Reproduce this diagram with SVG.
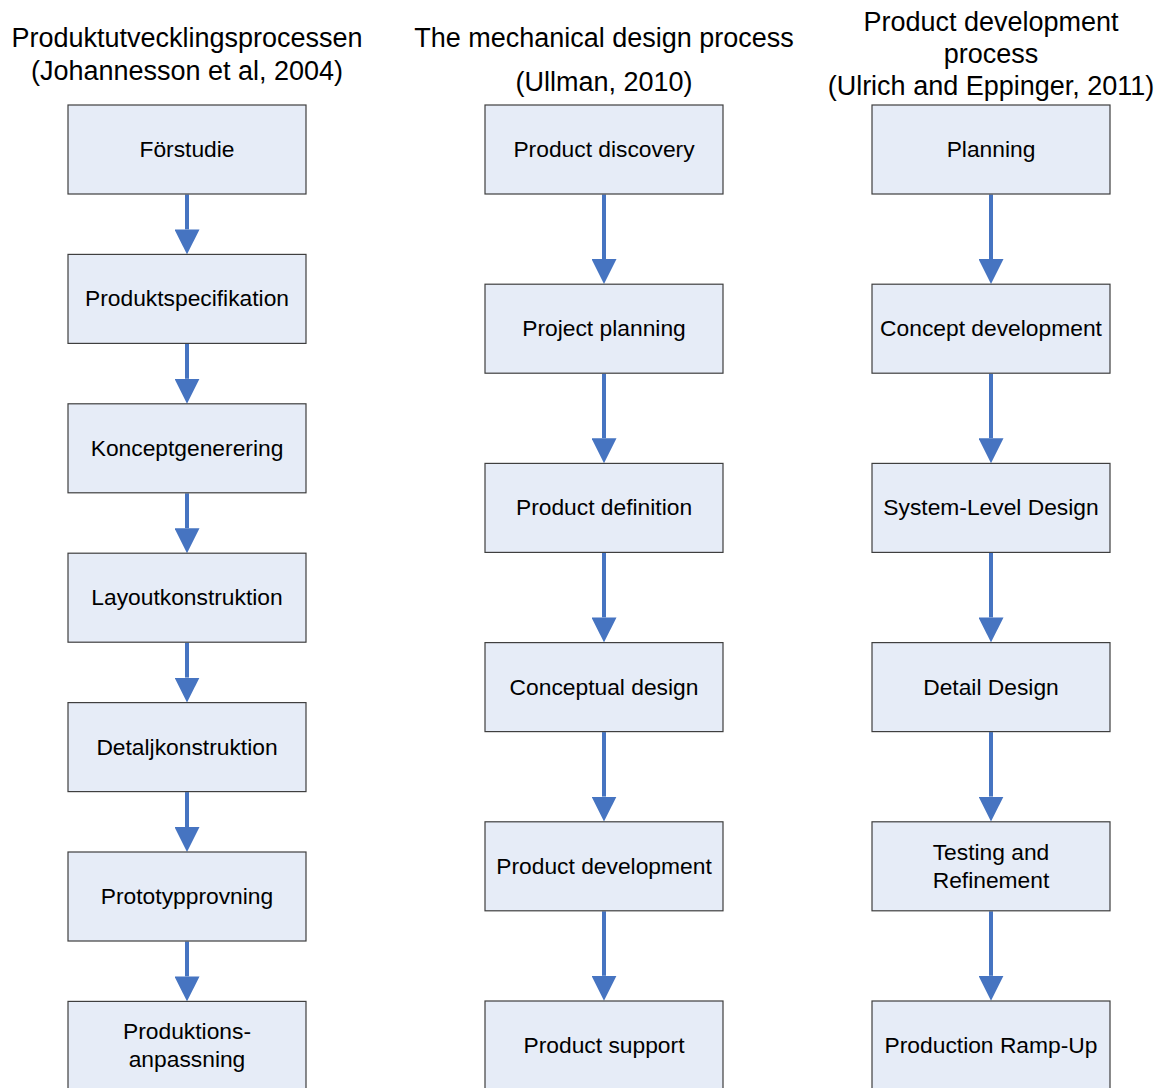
<svg xmlns="http://www.w3.org/2000/svg" width="1164" height="1088" viewBox="0 0 1164 1088">
  <style>
    .title { font-family: "Liberation Sans", Arial, sans-serif; font-size: 27px; fill: #000; text-anchor: middle; }
    .box rect { fill: #E6ECF7; stroke: #3F3F3F; stroke-width: 1.2; }
    .box text { font-family: "Liberation Sans", Arial, sans-serif; font-size: 22.8px; fill: #000; text-anchor: middle; }
    .flow { stroke: #4674C1; stroke-width: 4; fill: none; marker-end: url(#head); }
  </style>
  <defs>
    <marker id="head" markerUnits="userSpaceOnUse" viewBox="0 -12.5 25 25" refX="0" refY="0" markerWidth="25" markerHeight="25" orient="auto">
      <path d="M0,-12.5 L25,0 L0,12.5 Z" fill="#4674C1"/>
    </marker>
  </defs>
  <rect width="1164" height="1088" fill="#FFFFFF"/>

  <!-- column headings -->
  <g id="headings">
    <text class="title" x="187" y="46.5">Produktutvecklingsprocessen</text>
    <text class="title" x="187" y="79.5">(Johannesson et al, 2004)</text>
    <text class="title" x="604" y="47">The mechanical design process</text>
    <text class="title" x="604" y="91">(Ullman, 2010)</text>
    <text class="title" x="991" y="30.5">Product development</text>
    <text class="title" x="991" y="63">process</text>
    <text class="title" x="991" y="95">(Ulrich and Eppinger, 2011)</text>
  </g>

  <!-- connectors -->
  <g id="connectors">
    <path class="flow" d="M187,194.5 V229.4"/>
    <path class="flow" d="M187,343.9 V378.8"/>
    <path class="flow" d="M187,493.3 V528.2"/>
    <path class="flow" d="M187,642.7 V677.6"/>
    <path class="flow" d="M187,792.1 V827"/>
    <path class="flow" d="M187,941.5 V976.4"/>

    <path class="flow" d="M604,194.5 V259"/>
    <path class="flow" d="M604,373.7 V438.2"/>
    <path class="flow" d="M604,552.9 V617.4"/>
    <path class="flow" d="M604,732.1 V796.6"/>
    <path class="flow" d="M604,911.3 V975.8"/>

    <path class="flow" d="M991,194.5 V259"/>
    <path class="flow" d="M991,373.7 V438.2"/>
    <path class="flow" d="M991,552.9 V617.4"/>
    <path class="flow" d="M991,732.1 V796.6"/>
    <path class="flow" d="M991,911.3 V975.8"/>
  </g>

  <!-- Johannesson et al. -->
  <g id="forstudie" class="box"><rect x="68" y="105" width="238" height="89"/><text x="187" y="157">Förstudie</text></g>
  <g id="produktspecifikation" class="box"><rect x="68" y="254.4" width="238" height="89"/><text x="187" y="306.4">Produktspecifikation</text></g>
  <g id="konceptgenerering" class="box"><rect x="68" y="403.8" width="238" height="89"/><text x="187" y="455.8">Konceptgenerering</text></g>
  <g id="layoutkonstruktion" class="box"><rect x="68" y="553.2" width="238" height="89"/><text x="187" y="605.2">Layoutkonstruktion</text></g>
  <g id="detaljkonstruktion" class="box"><rect x="68" y="702.6" width="238" height="89"/><text x="187" y="754.6">Detaljkonstruktion</text></g>
  <g id="prototypprovning" class="box"><rect x="68" y="852" width="238" height="89"/><text x="187" y="904">Prototypprovning</text></g>
  <g id="produktionsanpassning" class="box"><rect x="68" y="1001.4" width="238" height="89"/><text x="187" y="1039">Produktions-</text><text x="187" y="1066.5">anpassning</text></g>

  <!-- Ullman -->
  <g id="product-discovery" class="box"><rect x="485" y="105" width="238" height="89"/><text x="604" y="157">Product discovery</text></g>
  <g id="project-planning" class="box"><rect x="485" y="284.2" width="238" height="89"/><text x="604" y="336.2">Project planning</text></g>
  <g id="product-definition" class="box"><rect x="485" y="463.4" width="238" height="89"/><text x="604" y="515.4">Product definition</text></g>
  <g id="conceptual-design" class="box"><rect x="485" y="642.6" width="238" height="89"/><text x="604" y="694.6">Conceptual design</text></g>
  <g id="product-development" class="box"><rect x="485" y="821.8" width="238" height="89"/><text x="604" y="873.8">Product development</text></g>
  <g id="product-support" class="box"><rect x="485" y="1001" width="238" height="89"/><text x="604" y="1053">Product support</text></g>

  <!-- Ulrich and Eppinger -->
  <g id="planning" class="box"><rect x="872" y="105" width="238" height="89"/><text x="991" y="157">Planning</text></g>
  <g id="concept-development" class="box"><rect x="872" y="284.2" width="238" height="89"/><text x="991" y="336.2">Concept development</text></g>
  <g id="system-level-design" class="box"><rect x="872" y="463.4" width="238" height="89"/><text x="991" y="515.4">System-Level Design</text></g>
  <g id="detail-design" class="box"><rect x="872" y="642.6" width="238" height="89"/><text x="991" y="694.6">Detail Design</text></g>
  <g id="testing-refinement" class="box"><rect x="872" y="821.8" width="238" height="89"/><text x="991" y="860">Testing and</text><text x="991" y="887.5">Refinement</text></g>
  <g id="production-ramp-up" class="box"><rect x="872" y="1001" width="238" height="89"/><text x="991" y="1053">Production Ramp-Up</text></g>
</svg>
